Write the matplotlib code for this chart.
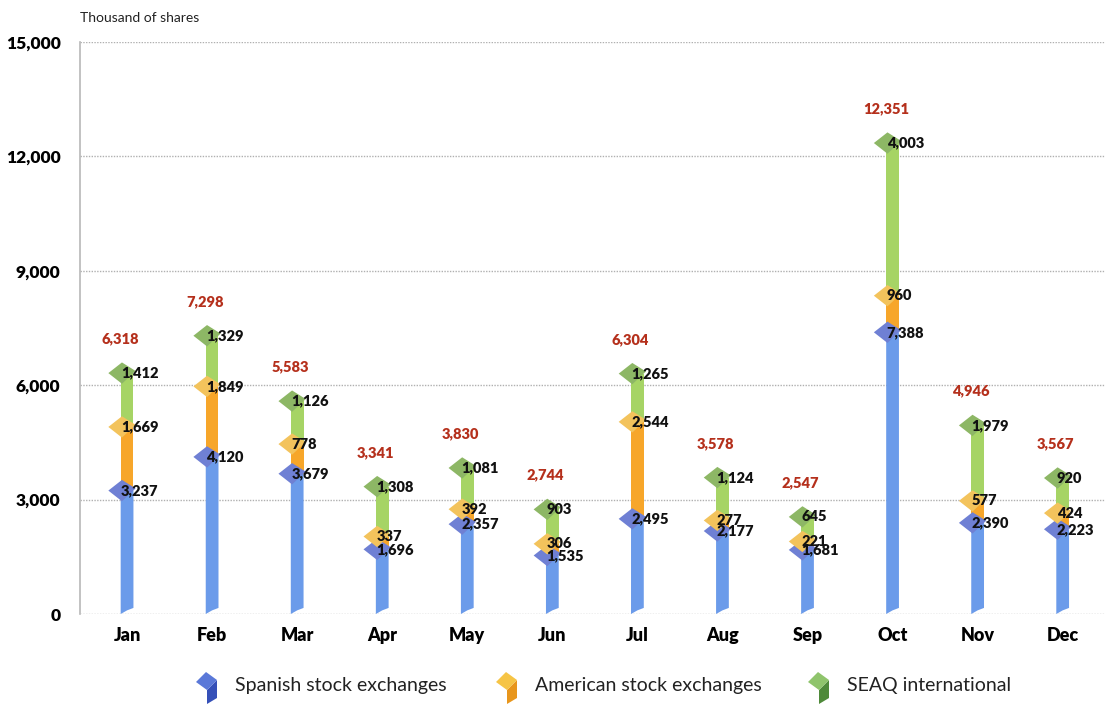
import numpy as np
import matplotlib
matplotlib.use('Agg')
import matplotlib.pyplot as plt
from matplotlib.patches import Polygon

plt.rcParams['font.family'] = ['Lato', 'DejaVu Sans']

# Monthly volume, thousand of shares
months = ['Jan', 'Feb', 'Mar', 'Apr', 'May', 'Jun', 'Jul', 'Aug', 'Sep', 'Oct', 'Nov', 'Dec']
spanish = [3237, 4120, 3679, 1696, 2357, 1535, 2495, 2177, 1681, 7388, 2390, 2223]
american = [1669, 1849, 778, 337, 392, 306, 2544, 277, 221, 960, 577, 424]
seaq = [1412, 1329, 1126, 1308, 1081, 903, 1265, 1124, 645, 4003, 1979, 920]
totals = [6318, 7298, 5583, 3341, 3830, 2744, 6304, 3578, 2547, 12351, 4946, 3567]
series_names = ['Spanish stock exchanges', 'American stock exchanges', 'SEAQ international']

bar_colors = ['#6b9bea', '#f7a62a', '#a6d465']
cap_colors = ['#6f80d4', '#f3c35c', '#8db765']
icon_top = ['#5a78d8', '#f6c445', '#8fc46c']
icon_side = ['#3550b8', '#e8961c', '#4f8a3a']

fig = plt.figure(figsize=(11.13, 7.04), dpi=100)
ax = fig.add_axes([0.0719, 0.1278, 0.9211, 0.8125])
ax.set_xlim(-0.553, 11.5)
ax.set_ylim(0, 15000)

ax.set_yticks([0, 3000, 6000, 9000, 12000, 15000])
ax.set_yticklabels(['0', '3,000', '6,000', '9,000', '12,000', '15,000'],
                   fontsize=12.5, fontweight='heavy')
ax.set_xticks(range(len(months)))
ax.set_xticklabels(months, fontsize=13, fontweight='heavy')
ax.tick_params(axis='both', length=0)
ax.tick_params(axis='y', pad=14)
ax.tick_params(axis='x', pad=9)
for s in ['top', 'right', 'bottom']:
    ax.spines[s].set_visible(False)
ax.spines['left'].set_color('#b8b8b8')
ax.spines['left'].set_linewidth(1.2)
ax.grid(axis='y', linestyle=(0, (1, 1)), color='#b0b0b0', linewidth=1)
ax.set_axisbelow(True)

hw = 0.075      # half width of a bar
cw, ch = 0.16, 280   # half width / half height of the diamond caps
notch = 160

for i in range(len(months)):
    vals = [spanish[i], american[i], seaq[i]]
    bottom = 0
    tops = []
    for k, v in enumerate(vals):
        top = bottom + v
        if k == 0:
            pts = [(i - hw, 0), (i, notch * 0.6), (i + hw, notch), (i + hw, top), (i - hw, top)]
        else:
            pts = [(i - hw, bottom), (i + hw, bottom), (i + hw, top), (i - hw, top)]
        ax.add_patch(Polygon(pts, closed=True, facecolor=bar_colors[k], edgecolor='none', zorder=2))
        tops.append(top)
        bottom = top
    for k, top in enumerate(tops):
        cx = i - 0.06
        pts = [(cx - cw, top), (cx, top + ch), (cx + cw, top + ch * 0.2), (cx, top - ch)]
        ax.add_patch(Polygon(pts, closed=True, facecolor=cap_colors[k], edgecolor='none', zorder=3))
        ax.text(i - 0.07, top, f'{vals[k]:,}', fontsize=10.5, fontweight='heavy',
                color='#111111', ha='left', va='center', zorder=4)
    ax.text(i - 0.08, totals[i] + 900, f'{totals[i]:,}', fontsize=10.5, fontweight='heavy',
            color='#b5301c', ha='center', va='center', zorder=4)

fig.text(80 / 1113, 1 - 18 / 704, 'Thousand of shares', fontsize=10, color='#222222',
         ha='left', va='center')

# legend drawn by hand with small cube icons
W, H = 1113, 704
legend_x = [196, 496, 808]
for k, x0 in enumerate(legend_x):
    y0 = 672
    top = [(x0, y0 + 10), (x0 + 10, y0), (x0 + 21, y0 + 8), (x0 + 11, y0 + 18)]
    side = [(x0 + 11, y0 + 18), (x0 + 21, y0 + 8), (x0 + 21, y0 + 26), (x0 + 11, y0 + 32)]
    for pts, col in [(side, icon_side[k]), (top, icon_top[k])]:
        fig.patches.append(Polygon([(px / W, 1 - py / H) for px, py in pts], closed=True,
                                   transform=fig.transFigure, facecolor=col, edgecolor='none'))
    fig.text((x0 + 39) / W, 1 - 686 / H, series_names[k], fontsize=14, color='#222222',
             ha='left', va='center')

fig.savefig('out.png', dpi=100, facecolor='white')
